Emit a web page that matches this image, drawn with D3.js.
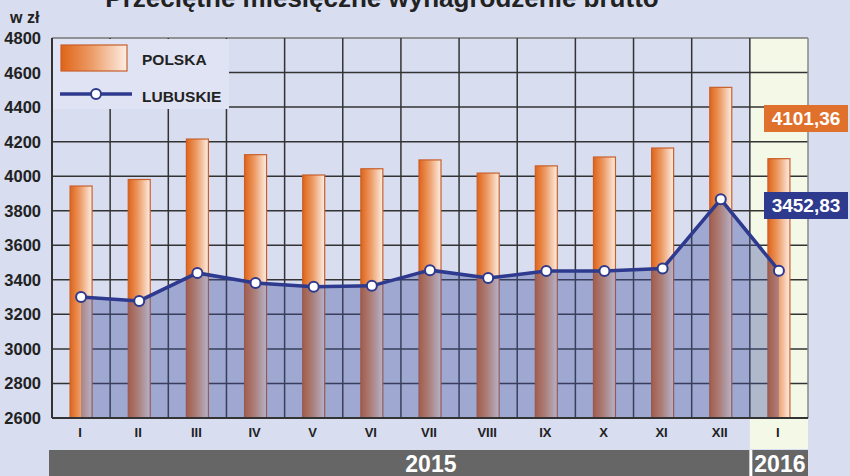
<!DOCTYPE html>
<html>
<head>
<meta charset="utf-8">
<script src="https://cdn.jsdelivr.net/npm/d3@7"></script>
<style>
  body { margin: 0; background: #d8ddf0; }
  svg { display: block; font-family: 'Liberation Sans', Arial, sans-serif; }
</style>
</head>
<body>
<div id="chart"></div>
<script>
// months of 2015 and January 2016
const months = ['I', 'II', 'III', 'IV', 'V', 'VI', 'VII', 'VIII', 'IX', 'X', 'XI', 'XII', 'I']
const polska = [3942.96, 3980.86, 4215.0, 4124.46, 4006.81, 4043.0, 4094.08, 4017.9, 4059.62, 4111.0, 4163.0, 4514.25, 4101.36]
const lubuskie = [3300, 3278, 3440, 3382, 3360, 3365, 3456, 3410, 3451, 3451, 3466, 3866, 3452.83]
const yTicks = [2600, 2800, 3000, 3200, 3400, 3600, 3800, 4000, 4200, 4400, 4600, 4800]
const years = [{ label: '2015', from: 0, to: 11 }, { label: '2016', from: 12, to: 12 }]
const lastPolska = '4101,36'
const lastLubuskie = '3452,83'

const width = 850
const height = 476
const plotLeft = 52
const plotRight = 808
const plotTop = 38
const plotBottom = 418

const svg = d3.select('#chart')
  .append('svg')
  .attr('width', width)
  .attr('height', height)

const defs = svg.append('defs')
const grad = defs.append('linearGradient').attr('id', 'barGrad')
grad.append('stop').attr('offset', '0%').attr('stop-color', '#df6418')
grad.append('stop').attr('offset', '45%').attr('stop-color', '#ec9a64')
grad.append('stop').attr('offset', '100%').attr('stop-color', '#fdeee4')

const x = d3.scaleBand()
  .domain(d3.range(months.length))
  .range([plotLeft, plotRight])
  .padding(0)

const y = d3.scaleLinear()
  .domain([2600, 4800])
  .range([plotBottom, plotTop])

svg.append('rect').attr('width', width).attr('height', height).attr('fill', '#d8ddf0')

// 2016 column highlight
svg.append('rect')
  .attr('x', x(12))
  .attr('y', plotTop)
  .attr('width', x.bandwidth())
  .attr('height', 449 - plotTop)
  .attr('fill', '#f4f8e7')

// grid
svg.append('g')
  .selectAll('line')
  .data(yTicks)
  .enter()
  .append('line')
  .attr('x1', plotLeft)
  .attr('x2', plotRight)
  .attr('y1', d => y(d))
  .attr('y2', d => y(d))
  .style('stroke', d => d === 4800 ? '#777' : '#333')
  .style('stroke-width', 1.5)

svg.append('g')
  .selectAll('line')
  .data(d3.range(months.length + 1))
  .enter()
  .append('line')
  .attr('x1', d => plotLeft + d * x.bandwidth())
  .attr('x2', d => plotLeft + d * x.bandwidth())
  .attr('y1', plotTop)
  .attr('y2', plotBottom)
  .style('stroke', d => d === months.length ? '#888' : '#333')
  .style('stroke-width', d => d === 0 ? 2 : 1.5)

// bars
const barW = 22
svg.append('g')
  .selectAll('rect')
  .data(polska)
  .enter()
  .append('rect')
  .attr('x', (d, i) => x(i) + x.bandwidth() / 2 - barW / 2)
  .attr('y', d => y(d))
  .attr('width', barW)
  .attr('height', d => plotBottom - y(d))
  .attr('fill', 'url(#barGrad)')
  .style('stroke', '#c9602c')
  .style('stroke-width', 1.2)

// area under the line
const cx = i => x(i) + x.bandwidth() / 2
const area = d3.area()
  .x((d, i) => cx(i))
  .y0(plotBottom)
  .y1(d => y(d))
svg.append('path')
  .datum(lubuskie)
  .attr('d', area)
  .attr('fill', '#42519f')
  .attr('fill-opacity', 0.38)

const line = d3.line()
  .x((d, i) => cx(i))
  .y(d => y(d))
svg.append('path')
  .datum(lubuskie)
  .attr('d', line)
  .attr('fill', 'none')
  .style('stroke', '#2e3a8e')
  .style('stroke-width', 3.5)

svg.append('g')
  .selectAll('circle')
  .data(lubuskie)
  .enter()
  .append('circle')
  .attr('cx', (d, i) => cx(i))
  .attr('cy', d => y(d))
  .attr('r', 5)
  .style('fill', '#fff')
  .style('stroke', '#2e3a8e')
  .style('stroke-width', 2)

// axis line
svg.append('line')
  .attr('x1', plotLeft).attr('x2', plotRight).attr('y1', plotBottom).attr('y2', plotBottom)
  .style('stroke', '#333').style('stroke-width', 2)

// y labels
svg.append('g')
  .selectAll('text')
  .data(yTicks)
  .enter()
  .append('text')
  .attr('x', 41)
  .attr('y', d => y(d) + 6)
  .attr('text-anchor', 'end')
  .attr('font-size', '16.5px')
  .attr('font-weight', 'bold')
  .attr('fill', '#222')
  .text(d => d)

svg.append('text')
  .attr('x', 10).attr('y', 23)
  .attr('font-size', '16px').attr('font-weight', 'bold').attr('fill', '#222')
  .text('w zł')

// x labels
svg.append('g')
  .selectAll('text')
  .data(months)
  .enter()
  .append('text')
  .attr('x', (d, i) => cx(i) - 1)
  .attr('y', 437)
  .attr('text-anchor', 'middle')
  .attr('font-size', '13px')
  .attr('font-weight', 'bold')
  .attr('fill', '#222')
  .text(d => d)

// year band
svg.append('rect')
  .attr('x', 49).attr('y', 450).attr('width', plotRight - 49).attr('height', 26)
  .attr('fill', '#666')
svg.append('line')
  .attr('x1', x(12) + 1).attr('x2', x(12) + 1).attr('y1', 450).attr('y2', 476)
  .style('stroke', '#fff').style('stroke-width', 3)
svg.append('g')
  .selectAll('text')
  .data(years)
  .enter()
  .append('text')
  .attr('x', d => d.label === '2015' ? (plotLeft + x(d.to) + x.bandwidth()) / 2 + 30 : cx(d.from) + 1)
  .attr('y', 472)
  .attr('text-anchor', 'middle')
  .attr('font-size', '23px')
  .attr('font-weight', 'bold')
  .attr('fill', '#fff')
  .text(d => d.label)

// legend
const lg = svg.append('g')
lg.append('rect')
  .attr('x', plotLeft + 1).attr('y', plotTop + 1).attr('width', 176).attr('height', 70)
  .attr('fill', '#dfe3f3')
lg.append('rect')
  .attr('x', 61).attr('y', 45).attr('width', 66).attr('height', 26)
  .attr('fill', 'url(#barGrad)')
  .style('stroke', '#c9602c').style('stroke-width', 1.2)
lg.append('line')
  .attr('x1', 60).attr('x2', 132).attr('y1', 94).attr('y2', 94)
  .style('stroke', '#2e3a8e').style('stroke-width', 3.5)
lg.append('circle')
  .attr('cx', 96).attr('cy', 94).attr('r', 5)
  .style('fill', '#fff').style('stroke', '#2e3a8e').style('stroke-width', 2)
lg.append('text')
  .attr('x', 142).attr('y', 65)
  .attr('font-size', '15.5px').attr('font-weight', 'bold').attr('fill', '#222')
  .text('POLSKA')
lg.append('text')
  .attr('x', 142).attr('y', 102)
  .attr('font-size', '15.5px').attr('font-weight', 'bold').attr('fill', '#222')
  .text('LUBUSKIE')

// value boxes
const boxes = [
  { text: lastPolska, y: 105, color: '#e0712c' },
  { text: lastLubuskie, y: 192, color: '#2e3a8e' }
]
const bx = svg.append('g')
  .selectAll('g')
  .data(boxes)
  .enter()
  .append('g')
bx.append('rect')
  .attr('x', 764).attr('y', d => d.y).attr('width', 84).attr('height', 27)
  .attr('fill', d => d.color)
bx.append('text')
  .attr('x', 806).attr('y', d => d.y + 20)
  .attr('text-anchor', 'middle')
  .attr('font-size', '19px').attr('font-weight', 'bold').attr('fill', '#fff')
  .text(d => d.text)

// title (cut at top like in the source)
svg.append('text')
  .attr('x', 382).attr('y', 7)
  .attr('text-anchor', 'middle')
  .attr('font-size', '26px').attr('font-weight', 'bold').attr('fill', '#222')
  .text('Przeciętne miesięczne wynagrodzenie brutto')
</script>
</body>
</html>
